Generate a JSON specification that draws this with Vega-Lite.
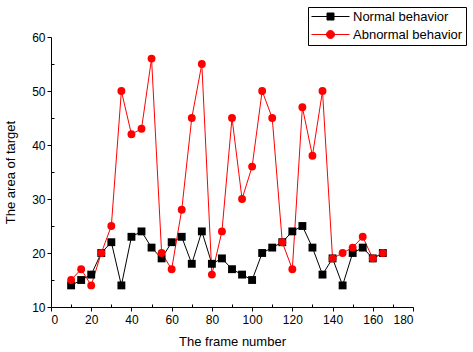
{
  "$schema": "https://vega.github.io/schema/vega-lite/v6.json",
  "autosize": "none",
  "width": 362,
  "height": 270,
  "padding": {"left": 51, "top": 37, "right": 60, "bottom": 45},
  "background": "white",
  "config": {
    "view": {"stroke": null},
    "font": "Liberation Sans",
    "axis": {"grid": false, "domainColor": "black", "tickColor": "black", "labelColor": "black", "titleColor": "black", "labelFont": "Liberation Sans", "titleFont": "Liberation Sans", "labelFontSize": 12, "titleFontSize": 13, "titleFontWeight": "normal", "domainWidth": 1, "tickWidth": 1},
    "legend": {"labelFont": "Liberation Sans"}
  },
  "data": {"values": [
    {"frame": 10, "area": 14, "series": "Normal behavior"},
    {"frame": 15, "area": 15, "series": "Normal behavior"},
    {"frame": 20, "area": 16, "series": "Normal behavior"},
    {"frame": 25, "area": 20, "series": "Normal behavior"},
    {"frame": 30, "area": 22, "series": "Normal behavior"},
    {"frame": 35, "area": 14, "series": "Normal behavior"},
    {"frame": 40, "area": 23, "series": "Normal behavior"},
    {"frame": 45, "area": 24, "series": "Normal behavior"},
    {"frame": 50, "area": 21, "series": "Normal behavior"},
    {"frame": 55, "area": 19, "series": "Normal behavior"},
    {"frame": 60, "area": 22, "series": "Normal behavior"},
    {"frame": 65, "area": 23, "series": "Normal behavior"},
    {"frame": 70, "area": 18, "series": "Normal behavior"},
    {"frame": 75, "area": 24, "series": "Normal behavior"},
    {"frame": 80, "area": 18, "series": "Normal behavior"},
    {"frame": 85, "area": 19, "series": "Normal behavior"},
    {"frame": 90, "area": 17, "series": "Normal behavior"},
    {"frame": 95, "area": 16, "series": "Normal behavior"},
    {"frame": 100, "area": 15, "series": "Normal behavior"},
    {"frame": 105, "area": 20, "series": "Normal behavior"},
    {"frame": 110, "area": 21, "series": "Normal behavior"},
    {"frame": 115, "area": 22, "series": "Normal behavior"},
    {"frame": 120, "area": 24, "series": "Normal behavior"},
    {"frame": 125, "area": 25, "series": "Normal behavior"},
    {"frame": 130, "area": 21, "series": "Normal behavior"},
    {"frame": 135, "area": 16, "series": "Normal behavior"},
    {"frame": 140, "area": 19, "series": "Normal behavior"},
    {"frame": 145, "area": 14, "series": "Normal behavior"},
    {"frame": 150, "area": 20, "series": "Normal behavior"},
    {"frame": 155, "area": 21, "series": "Normal behavior"},
    {"frame": 160, "area": 19, "series": "Normal behavior"},
    {"frame": 165, "area": 20, "series": "Normal behavior"},
    {"frame": 10, "area": 15, "series": "Abnormal behavior"},
    {"frame": 15, "area": 17, "series": "Abnormal behavior"},
    {"frame": 20, "area": 14, "series": "Abnormal behavior"},
    {"frame": 25, "area": 20, "series": "Abnormal behavior"},
    {"frame": 30, "area": 25, "series": "Abnormal behavior"},
    {"frame": 35, "area": 50, "series": "Abnormal behavior"},
    {"frame": 40, "area": 42, "series": "Abnormal behavior"},
    {"frame": 45, "area": 43, "series": "Abnormal behavior"},
    {"frame": 50, "area": 56, "series": "Abnormal behavior"},
    {"frame": 55, "area": 20, "series": "Abnormal behavior"},
    {"frame": 60, "area": 17, "series": "Abnormal behavior"},
    {"frame": 65, "area": 28, "series": "Abnormal behavior"},
    {"frame": 70, "area": 45, "series": "Abnormal behavior"},
    {"frame": 75, "area": 55, "series": "Abnormal behavior"},
    {"frame": 80, "area": 16, "series": "Abnormal behavior"},
    {"frame": 85, "area": 24, "series": "Abnormal behavior"},
    {"frame": 90, "area": 45, "series": "Abnormal behavior"},
    {"frame": 95, "area": 30, "series": "Abnormal behavior"},
    {"frame": 100, "area": 36, "series": "Abnormal behavior"},
    {"frame": 105, "area": 50, "series": "Abnormal behavior"},
    {"frame": 110, "area": 45, "series": "Abnormal behavior"},
    {"frame": 115, "area": 22, "series": "Abnormal behavior"},
    {"frame": 120, "area": 17, "series": "Abnormal behavior"},
    {"frame": 125, "area": 47, "series": "Abnormal behavior"},
    {"frame": 130, "area": 38, "series": "Abnormal behavior"},
    {"frame": 135, "area": 50, "series": "Abnormal behavior"},
    {"frame": 140, "area": 19, "series": "Abnormal behavior"},
    {"frame": 145, "area": 20, "series": "Abnormal behavior"},
    {"frame": 150, "area": 21, "series": "Abnormal behavior"},
    {"frame": 155, "area": 23, "series": "Abnormal behavior"},
    {"frame": 160, "area": 19, "series": "Abnormal behavior"},
    {"frame": 165, "area": 20, "series": "Abnormal behavior"}
  ]},
  "encoding": {
    "x": {"field": "frame", "type": "quantitative", "title": "The frame number",
      "scale": {"domain": [0, 180], "nice": false},
      "axis": {"values": [0,10,20,30,40,50,60,70,80,90,100,110,120,130,140,150,160,170,180],
        "labelExpr": "datum.value % 20 === 0 ? datum.label : ''",
        "tickSize": {"condition": {"test": "datum.value % 20 === 0", "value": 4}, "value": -3},
        "labelPadding": 3, "titlePadding": 10}},
    "y": {"field": "area", "type": "quantitative", "title": "The area of target",
      "scale": {"domain": [10, 60], "nice": false, "zero": false},
      "axis": {"values": [10,15,20,25,30,35,40,45,50,55,60],
        "labelExpr": "datum.value % 10 === 0 ? datum.label : ''",
        "tickSize": {"condition": {"test": "datum.value % 10 === 0", "value": 4}, "value": -3},
        "labelPadding": 2, "titlePadding": 14}},
    "color": {"field": "series", "type": "nominal",
      "scale": {"domain": ["Normal behavior", "Abnormal behavior"], "range": ["#000000", "#FF0000"]},
      "legend": {"orient": "none", "legendX": 257, "legendY": -30, "title": null,
        "strokeColor": "black", "fillColor": "white", "padding": 3,
        "symbolSize": 100, "symbolOffset": 13, "labelOffset": 16, "labelFontSize": 13, "labelColor": "black",
        "rowPadding": 4, "symbolStrokeWidth": 1, "symbolType": "circle",
        "encode": {"symbols": {"update": {
          "shape": {"signal": "datum.value === 'Normal behavior' ? 'M-3.8,0H3.8M-0.7,-0.7H0.7V0.7H-0.7Z' : 'M-3.8,0H3.8M0.8,0A0.8,0.8 0 1 1 -0.8,0A0.8,0.8 0 1 1 0.8,0Z'"},
          "stroke": {"signal": "scale('color', datum.value)"},
          "fill": {"signal": "scale('color', datum.value)"},
          "strokeWidth": {"value": 1},
          "size": {"value": 100},
          "opacity": {"value": 1}
        }}}}
    }
  },
  "layer": [
    {
      "mark": {"type": "line", "strokeWidth": 1}
    },
    {
      "transform": [{"filter": "datum.series === 'Normal behavior'"}],
      "mark": {"type": "point", "filled": true, "opacity": 1, "size": 62, "shape": "square"}
    },
    {
      "transform": [{"filter": "datum.series === 'Abnormal behavior'"}],
      "mark": {"type": "point", "filled": true, "opacity": 1, "size": 62, "shape": "circle"}
    }
  ]
}
